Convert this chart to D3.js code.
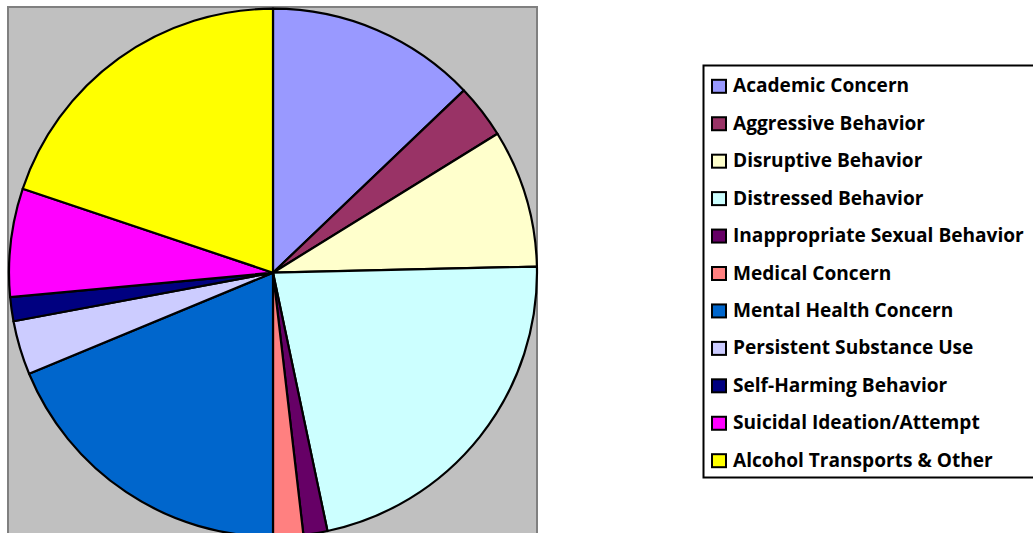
<!DOCTYPE html>
<html>
<head>
<meta charset="utf-8">
<script src="https://cdn.jsdelivr.net/npm/d3@7"></script>
<style>
  body { margin: 0; background: #fff; }
  svg { display: block; }
</style>
</head>
<body>
<div id="chart"></div>
<script>
// referral categories, in pie order (clockwise from 12 o'clock)
var categories = ["Academic Concern", "Aggressive Behavior", "Disruptive Behavior", "Distressed Behavior",
  "Inappropriate Sexual Behavior", "Medical Concern", "Mental Health Concern", "Persistent Substance Use",
  "Self-Harming Behavior", "Suicidal Ideation/Attempt", "Alcohol Transports & Other"];
// counts
var counts = [35, 9, 23, 60, 4, 5, 51, 9, 4, 18, 54];
var colors = ["#9999FF", "#993366", "#FFFFCC", "#CCFFFF", "#660066", "#FF8080",
  "#0066CC", "#CCCCFF", "#000080", "#FF00FF", "#FFFF00"];

(function(){
  var width = 1033, height = 533;

  var svg = d3.select("#chart")
    .append("svg")
      .attr("width", width)
      .attr("height", height);

  // gray plot area
  svg.append("rect")
    .attr("x", 8)
    .attr("y", 7)
    .attr("width", 529)
    .attr("height", 545)
    .attr("fill", "#C0C0C0")
    .attr("stroke", "#808080")
    .attr("stroke-width", 2);

  var cx = 273, cy = 272.7, r = 264;

  var data = categories.map(function(c, i) { return {name: c, value: counts[i], color: colors[i]}; });

  var pie = d3.pie()
    .sort(null)
    .value(function(d) { return d.value; });

  var arc = d3.arc()
    .innerRadius(0)
    .outerRadius(r);

  var g = svg.append("g")
    .attr("transform", "translate(" + cx + "," + cy + ")");

  g.selectAll("path")
    .data(pie(data))
    .join("path")
      .attr("d", arc)
      .attr("fill", function(d) { return d.data.color; })
      .attr("stroke", "#000")
      .attr("stroke-width", 2.2)
      .attr("stroke-linejoin", "round");

  // legend
  var legend = svg.append("g");

  legend.append("rect")
    .attr("x", 703.5)
    .attr("y", 65.5)
    .attr("width", 400)
    .attr("height", 412)
    .attr("fill", "#fff")
    .attr("stroke", "#000")
    .attr("stroke-width", 2);

  var ly = d3.scaleLinear()
    .domain([0, categories.length - 1])
    .range([92.3, 466.7]);

  var items = legend.selectAll("g.item")
    .data(data)
    .join("g")
      .attr("class", "item")
      .attr("transform", function(d, i) { return "translate(0," + ly(i) + ")"; });

  items.append("rect")
    .attr("x", 712)
    .attr("y", -12.5)
    .attr("width", 14)
    .attr("height", 13)
    .attr("fill", function(d) { return d.color; })
    .attr("stroke", "#000")
    .attr("stroke-width", 2);

  items.append("text")
    .attr("x", 733)
    .attr("y", 0)
    .style("font-family", "'Open Sans', sans-serif")
    .style("font-weight", "bold")
    .style("font-size", "19.1px")
    .attr("fill", "#000")
    .text(function(d) { return d.name; });
})();
</script>
</body>
</html>
